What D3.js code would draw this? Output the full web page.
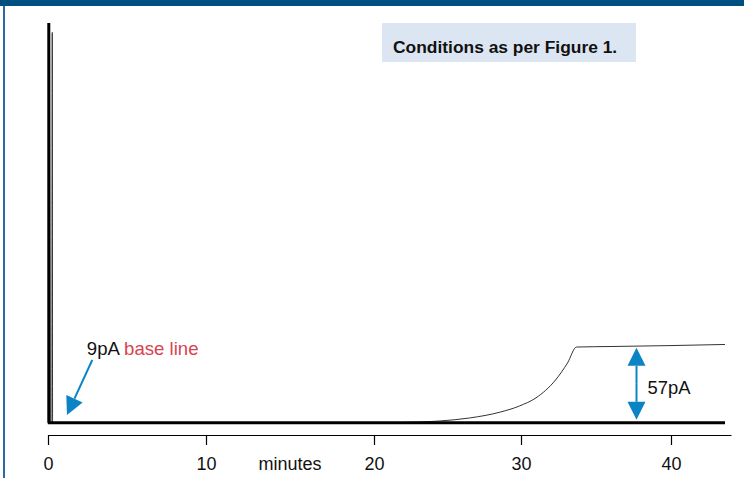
<!DOCTYPE html>
<html>
<head>
<meta charset="utf-8">
<script src="https://cdn.jsdelivr.net/npm/d3@7"></script>
<style>
  body { margin: 0; background: #fff; }
  svg { display: block; font-family: "Liberation Sans", Arial, Helvetica, sans-serif; }
</style>
</head>
<body>
<div id="chart"></div>
<script>
// Chart size
var w = 744;
var h = 478;

// Axis ticks (minutes)
var tickMinutes = [0, 10, 20, 30, 40];

// Blank run (bold trace): time in minutes, signal in pA
var blankTime   = [0.05, 0.05, 0.08, 43.6];
var blankSignal = [9, 305, 9, 9];

// Sample run (thin trace)
var sampleTime   = [0.25, 0.27, 0.29, 5, 10, 15, 20, 23.1, 24.5, 26.5, 28.6, 29.9, 31.0, 32.3, 33.1, 33.7, 36, 40, 43.6];
var sampleSignal = [9, 298, 9, 9, 9, 9, 9, 9.6, 10.4, 12.6, 17.0, 21.5, 27.5, 40.7, 53.3, 65.1, 65.5, 66.2, 67];

// Annotations
var baseLine = 9;      // pA
var riseHeight = 57;   // pA
var riseAt = 37.7;     // minutes, where the double arrow sits

var blue = "#0b84c6";
var red = "#d9434e";

var svg = d3.select("#chart")
    .append("svg")
    .attr("width", w)
    .attr("height", h);

// Scales: the printed time axis is not evenly spaced, so use a polylinear scale
var xScale = d3.scaleLinear()
    .domain([0, 10, 20, 30, 40, 44])
    .range([48, 206, 374, 521, 671, 731]);

var yScale = d3.scaleLinear()
    .domain([0, 300])
    .range([435, 29.7]);

// Frame: dark band on top, thin blue rule on the left
svg.append("rect")
    .attr("x", 0).attr("y", 0)
    .attr("width", w).attr("height", 6)
    .attr("fill", "#004f82");
svg.append("rect")
    .attr("x", 3).attr("y", 6)
    .attr("width", 2).attr("height", h - 6)
    .attr("fill", "#2a6aa0");

// Note box
svg.append("rect")
    .attr("x", 382).attr("y", 23)
    .attr("width", 254).attr("height", 39)
    .attr("fill", "#dce6f2");
svg.append("text")
    .attr("x", 393).attr("y", 53)
    .attr("font-size", "17.4px")
    .attr("font-weight", "bold")
    .attr("fill", "#111")
    .text("Conditions as per Figure 1.");

// Traces
var line = d3.line()
    .x(function(d) { return xScale(d[0]); })
    .y(function(d) { return yScale(d[1]); });

var smooth = d3.line()
    .x(function(d) { return xScale(d[0]); })
    .y(function(d) { return yScale(d[1]); })
    .curve(d3.curveMonotoneX);

svg.append("path")
    .datum(d3.zip(sampleTime, sampleSignal))
    .attr("d", smooth)
    .attr("fill", "none")
    .attr("stroke", "#333")
    .attr("stroke-width", 1);

svg.append("path")
    .datum(d3.zip(blankTime, blankSignal))
    .attr("d", line)
    .attr("fill", "none")
    .attr("stroke", "#000")
    .attr("stroke-width", 3)
    .attr("stroke-linejoin", "miter");

// X axis
var xAxis = d3.axisBottom(xScale)
    .tickValues(tickMinutes)
    .tickSize(10)
    .tickSizeOuter(0)
    .tickPadding(12);

var gx = svg.append("g")
    .attr("transform", "translate(0," + yScale(0) + ")")
    .call(xAxis);
gx.select(".domain").attr("stroke", "#000").attr("stroke-width", 1.2);
gx.selectAll(".tick line").attr("stroke", "#000").attr("stroke-width", 1.2);
gx.selectAll(".tick text")
    .attr("font-size", "18px")
    .attr("font-family", "Liberation Sans, Arial, sans-serif")
    .attr("fill", "#111");

svg.append("text")
    .attr("x", xScale(15))
    .attr("y", 470)
    .attr("text-anchor", "middle")
    .attr("font-size", "18px")
    .attr("fill", "#111")
    .text("minutes");

// Arrow helper: filled head at the tip
function arrowHead(x1, y1, x2, y2, len, half) {
    var dx = x2 - x1, dy = y2 - y1;
    var d = Math.sqrt(dx * dx + dy * dy);
    var ux = dx / d, uy = dy / d;
    var bx = x2 - ux * len, by = y2 - uy * len;
    return [[x2, y2], [bx - uy * half, by + ux * half], [bx + uy * half, by - ux * half]];
}

function drawArrow(x1, y1, x2, y2) {
    var head = arrowHead(x1, y1, x2, y2, 18, 9);
    svg.append("line")
        .attr("x1", x1).attr("y1", y1)
        .attr("x2", (head[1][0] + head[2][0]) / 2)
        .attr("y2", (head[1][1] + head[2][1]) / 2)
        .attr("stroke", blue)
        .attr("stroke-width", 2);
    svg.append("polygon")
        .attr("points", head.map(function(p) { return p.join(","); }).join(" "))
        .attr("fill", blue);
}

// "9pA base line" pointer
drawArrow(xScale(2.8), yScale(55.5), xScale(1.2), yScale(14.8));

var label = svg.append("text")
    .attr("x", xScale(2.46))
    .attr("y", 355)
    .attr("font-size", "18.6px")
    .attr("fill", "#111");
label.append("tspan").text(baseLine + "pA ");
label.append("tspan").attr("fill", red).text("base line");

// Double arrow for the rise
var ax = xScale(riseAt);
var yTop = yScale(baseLine + riseHeight) + 2;
var yBot = yScale(baseLine) - 3;
var yMid = (yTop + yBot) / 2;
drawArrow(ax, yMid, ax, yTop);
drawArrow(ax, yMid, ax, yBot);

svg.append("text")
    .attr("x", ax + 11)
    .attr("y", 394)
    .attr("font-size", "18.4px")
    .attr("fill", "#111")
    .text(riseHeight + "pA");
</script>
</body>
</html>
